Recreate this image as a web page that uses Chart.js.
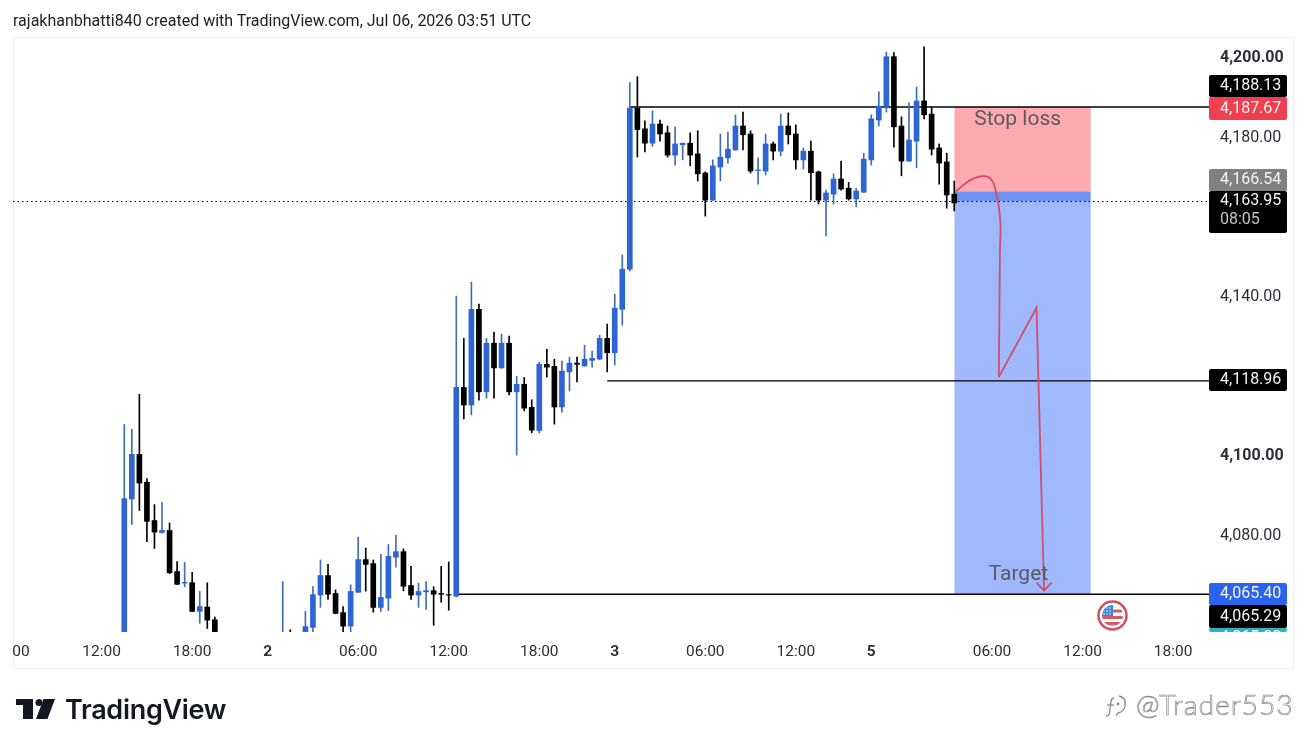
<!DOCTYPE html>
<html>
<head>
<meta charset="utf-8">
<title>XAUUSD short setup</title>
<script src="https://cdn.jsdelivr.net/npm/chart.js@4"></script>
<style>
  html, body { margin: 0; padding: 0; background: #fff; overflow: hidden; }
  #wrap { position: relative; width: 1306px; height: 749px; }
  #frame { position: absolute; left: 13px; top: 37px; width: 1279px; height: 630px; border: 1px solid #f0f0f2; }
  #c { position: absolute; left: 0; top: 0; }
  #head { position: absolute; left: 13px; top: 11px; font: 16px Roboto, sans-serif; color: #222; white-space: nowrap; }
  #brand { position: absolute; left: 65px; top: 693px; font: 600 27px Inter, sans-serif; color: #131722; letter-spacing: -0.3px; }
  #mark { position: absolute; left: 1136px; top: 687px; font: 300 28.4px Lato, sans-serif; color: #fff; -webkit-text-stroke: 0.7px #8a8a8a; letter-spacing: 0.9px; white-space: nowrap; }
  svg { position: absolute; }
</style>
</head>
<body>
<div id="wrap">
  <div id="frame"></div>
  <canvas id="c" width="1306" height="749"></canvas>
  <div id="head">rajakhanbhatti840 created with TradingView.com, Jul 06, 2026 03:51 UTC</div>
  <svg style="left:0;top:690px" width="60" height="36">
    <path d="M16 9h17v20h-10V15h-7z" fill="#131722"/>
    <circle cx="39" cy="12.500" r="3.500" fill="#131722"/>
    <path d="M43.500 9H55l-7.500 20H36z" fill="#131722"/>
  </svg>
  <div id="brand">TradingView</div>
  <svg style="left:1097px;top:600px" width="31" height="31" viewBox="0 0 31 31">
    <circle cx="15.500" cy="15.500" r="14" fill="#fff" stroke="#c9535e" stroke-width="2.500"/>
    <clipPath id="flag"><circle cx="15.500" cy="15.500" r="10.500"/></clipPath>
    <g clip-path="url(#flag)">
      <rect x="4" y="4" width="23" height="23" fill="#fff"/>
      <rect x="4" y="9.500" width="23" height="3" fill="#d8585f"/>
      <rect x="4" y="16" width="23" height="3" fill="#d8585f"/>
      <rect x="4" y="22" width="23" height="3.500" fill="#d8585f"/>
      <rect x="4" y="4" width="12" height="12" fill="#3f86d1"/>
      <g fill="#e8f2fb">
        <circle cx="7" cy="8" r="0.800"/><circle cx="10" cy="8" r="0.800"/><circle cx="13" cy="8" r="0.800"/>
        <circle cx="7" cy="11" r="0.800"/><circle cx="10" cy="11" r="0.800"/><circle cx="13" cy="11" r="0.800"/>
        <circle cx="7" cy="14" r="0.800"/><circle cx="10" cy="14" r="0.800"/><circle cx="13" cy="14" r="0.800"/>
      </g>
    </g>
  </svg>
  <svg style="left:1104px;top:692px" width="30" height="30" viewBox="0 0 30 30" fill="none" stroke="#8a8a8a" stroke-width="1.300">
    <path d="M10 6c-3 0-3 3-3.500 7l-1 8c-.4 3-2 3-3.500 3"/>
    <path d="M3 13h7"/>
    <path d="M15 4c5 1 7 5 6 10-.6 3.500-3 6-7 7l-2 3"/>
    <circle cx="14" cy="12" r="0.800"/>
  </svg>
  <div id="mark">@Trader553</div>
</div>

<script>
// 30 minute candles, slot number = bar index, price
// null = bar sits completely below the visible range
var opens = [4048, 4089.3, 4100.5, 4093.5, 4083.9, 4080.9, 4081.4, 4071.1, 4068.2, 4068.3, 4061.1, 4062.2, 4059.0,
  null, null, null, null, null, null, null, null, 4044, 4052, null, 4050, 4057.1, 4065.2, 4070.1, 4065.6, 4060.8,
  4057.4, 4065.9, 4074.1, 4073.1, 4062.1, 4064.4, 4074.7, 4076.1, 4067.6, 4065.2, 4066.0, 4066.3, 4065.6, 4065.3,
  4064.9, 4117.3, 4112.9, 4136.9, 4116.2, 4128.4, 4122.2, 4128.4, 4116.2, 4118.1, 4112.3, 4106.5, 4123.1, 4122.6,
  4112.4, 4121.2, 4123.4, 4122.7, 4124.1, 4124.4, 4129.6, 4126.0, 4136.9, 4147.0, 4187.4, 4182.2, 4178.6, 4183.4,
  4181.2, 4175.6, 4178.2, 4178.6, 4175.9, 4171.1, 4164.3, 4172.6, 4174.9, 4176.9, 4182.9, 4180.9, 4171.7, 4171.6,
  4178.4, 4176.6, 4182.9, 4180.9, 4174.4, 4176.6, 4171.4, 4164.3, 4165.8, 4169.6, 4167.3, 4164.6, 4166.3, 4174.4,
  4184.4, 4187.7, 4200.3, 4182.9, 4174.1, 4179.1, 4189.2, 4185.9, 4177.4, 4173.9, 4165.8];
var closes = [4089.4, 4100.5, 4093.3, 4083.7, 4081.0, 4081.4, 4070.8, 4067.9, 4068.4, 4061.1, 4062.3, 4058.9, 4052,
  null, null, null, null, null, null, null, null, 4048, 4048, null, 4057.3, 4065.3, 4070.1, 4065.4, 4060.6, 4057.4,
  4066.1, 4074.1, 4072.9, 4062.1, 4064.6, 4074.9, 4076.1, 4067.4, 4065.2, 4066.1, 4066.3, 4065.4, 4065.4, 4065.2,
  4117.3, 4112.9, 4136.9, 4116.2, 4128.4, 4122.2, 4128.4, 4116.2, 4118.1, 4112.1, 4106.6, 4123.1, 4122.4, 4112.4,
  4121.4, 4123.4, 4123.1, 4124.4, 4124.6, 4129.6, 4126.0, 4137.2, 4147.0, 4187.4, 4182.0, 4178.6, 4183.4, 4180.9,
  4175.6, 4178.4, 4178.6, 4175.6, 4170.9, 4164.3, 4172.9, 4175.1, 4177.1, 4182.9, 4180.7, 4171.6, 4171.9, 4178.4,
  4176.6, 4182.9, 4180.7, 4174.4, 4176.6, 4171.2, 4164.3, 4166.1, 4169.6, 4167.1, 4164.6, 4166.6, 4174.6, 4184.7,
  4187.9, 4200.3, 4182.7, 4174.1, 4179.4, 4189.2, 4185.7, 4177.1, 4173.6, 4165.6, 4163.6];
var highs = [4108.0, 4106.8, 4115.6, 4094.4, 4087.9, 4088.4, 4083.3, 4073.6, 4073.4, 4070.9, 4066.1, 4068.3, 4059.7,
  null, null, null, null, null, null, null, null, 4068.6, 4056.5, null, 4061.1, 4067.3, 4074.0, 4072.9, 4066.5, 4062.3,
  4067.8, 4079.7, 4077.0, 4074.0, 4075.4, 4077.9, 4080.2, 4076.8, 4072.4, 4068.2, 4068.6, 4067.3, 4072.4, 4073.5,
  4140.2, 4129.6, 4143.7, 4138.2, 4129.6, 4131.2, 4130.7, 4130.2, 4120.1, 4119.8, 4114.2, 4123.6, 4126.9, 4124.4,
  4123.9, 4124.9, 4124.9, 4127.9, 4126.4, 4130.4, 4133.2, 4140.7, 4150.5, 4193.8, 4195.3, 4184.2, 4186.7, 4184.4,
  4182.9, 4182.7, 4178.6, 4181.2, 4181.7, 4171.4, 4174.4, 4180.9, 4181.4, 4185.7, 4186.4, 4181.7, 4174.9, 4180.9,
  4178.9, 4185.9, 4186.2, 4183.2, 4177.4, 4179.1, 4171.6, 4166.8, 4170.9, 4174.1, 4168.8, 4167.3, 4176.1, 4185.7,
  4191.5, 4201.5, 4201.3, 4185.2, 4188.7, 4192.7, 4202.8, 4187.7, 4178.4, 4176.1, 4169.1];
var lows = [4045, 4082.9, 4086.4, 4078.6, 4076.9, 4080.7, 4070.6, 4067.8, 4067.3, 4061.0, 4058.1, 4056.8, 4050,
  null, null, null, null, null, null, null, null, 4042, 4046, null, 4048, 4054, 4062.1, 4064.1, 4060.5, 4055,
  4055, 4065.8, 4066.2, 4060.9, 4061.1, 4061.3, 4072.2, 4066.3, 4064.1, 4062.1, 4061.6, 4057.6, 4063.4, 4061.4,
  4064.8, 4109.4, 4110.4, 4114.1, 4114.6, 4114.6, 4122.1, 4115.4, 4100.3, 4111.4, 4105.9, 4105.9, 4119.9, 4108.1,
  4111.1, 4116.4, 4118.7, 4122.6, 4122.4, 4124.3, 4121.2, 4122.9, 4132.9, 4146.5, 4175.1, 4176.4, 4177.8, 4179.1,
  4175.1, 4173.1, 4174.4, 4172.9, 4169.1, 4160.3, 4164.2, 4169.1, 4173.6, 4176.8, 4176.9, 4171.1, 4168.3, 4170.6,
  4174.4, 4175.4, 4178.4, 4172.1, 4172.1, 4164.3, 4163.3, 4155.3, 4163.3, 4166.8, 4164.3, 4162.6, 4166.2, 4173.1,
  4182.9, 4186.4, 4177.6, 4170.4, 4174.0, 4172.4, 4184.7, 4175.6, 4168.3, 4162.3, 4161.6];

var xTickSlots = [-13.7, -3, 9, 19, 31, 43, 55, 65, 77, 89, 99, 115, 127, 139];
var xTickLabels = ["00", "12:00", "18:00", "2", "06:00", "12:00", "18:00", "3", "06:00", "12:00", "5", "06:00", "12:00", "18:00"];
var xBoldLabels = ["2", "3", "5"];
var yTickValues = [4200, 4180, 4140, 4100, 4080];
var yBoldValues = [4200, 4100];

var xMin = -14.75, xMax = 143.76;
var yMin = 4055.93, yMax = 4205.24;

// drawn levels: [price, first slot]
var levelPrices = [4187.67, 4118.96, 4065.40];
var levelStarts = [67, 64, 44];
var lastPrice = 4163.95;

// position tool
var entryPrice = 4166.54, stopPrice = 4187.67, targetPrice = 4065.40;
var boxStart = 110, boxEnd = 128.1;

// hand drawn arrow
var curveX = [110.2, 112, 113.6, 114.8, 115.5, 116.1, 116.05, 115.9];
var curveY = [4166.4, 4169.2, 4170.3, 4169.7, 4166.6, 4159.3, 4151, 4119.9];
var zigX = [115.9, 120.9, 121.9];
var zigY = [4119.9, 4137.3, 4066.3];
var headX = [120.9, 121.9, 122.9];
var headY = [4068.3, 4066.3, 4068.3];

var UP = "#2f64d4", UP_WICK = "#3f6fb0", DOWN = "#000000";
var ARROW = "#cf4f6c";

function pts(xs, ys) {
  return xs.map(function(x, i) { return { x: x, y: ys[i] }; });
}

function flatLine(price, from, to, color, extra) {
  return Object.assign({
    type: "line",
    data: [{ x: from, y: price }, { x: to, y: price }],
    borderColor: color,
    borderWidth: 1.4,
    pointRadius: 0,
    fill: false,
    order: 5
  }, extra || {});
}

function box(top, bottom, color) {
  return {
    type: "line",
    data: [{ x: boxStart, y: top }, { x: boxEnd, y: top }],
    borderWidth: 0,
    pointRadius: 0,
    backgroundColor: color,
    fill: { value: bottom },
    order: 20
  };
}

function arrowLine(xs, ys, tension) {
  return {
    type: "line",
    data: pts(xs, ys),
    borderColor: ARROW,
    borderWidth: 1.8,
    pointRadius: 0,
    tension: tension,
    fill: false,
    order: 1
  };
}

var wicks = highs.map(function(h, i) { return { x: i, y: h === null ? null : [lows[i], h] }; });
var bodies = opens.map(function(o, i) { return { x: i, y: o === null ? null : [o, closes[i]] }; });
var isUp = opens.map(function(o, i) { return closes[i] >= o; });

// labels of the price scale
var tagText = ["4,188.13", "4,187.67", "4,166.54", "4,163.95", "4,118.96", "4,065.40", "4,065.29", "4,065.00"];
var tagColor = ["#000000", "#ef3f50", "#808080", "#000000", "#000000", "#2a64ee", "#000000", "#2fb3c4"];
var tagTop = [75, 97, 169, 191, 369, 583, 605, 628];
var tagBottom = [97, 120, 191, 233, 391, 605, 628, 632];

var overlayPlugin = {
  id: "overlay",
  afterDatasetsDraw: function(chart) {
    var c = chart.ctx, sx = chart.scales.x, sy = chart.scales.y;
    c.save();
    c.fillStyle = "#5a5a62";
    c.font = "21px Roboto, sans-serif";
    c.textAlign = "center";
    c.textBaseline = "middle";
    c.fillText("Stop loss", sx.getPixelForValue(118.4), sy.getPixelForValue(4184.5));
    c.fillText("Target", sx.getPixelForValue(118.5), sy.getPixelForValue(4070.4));
    c.restore();
  },
  afterDraw: function(chart) {
    var c = chart.ctx, a = chart.chartArea;
    c.save();
    tagText.forEach(function(t, i) {
      c.save();
      c.beginPath();
      c.rect(a.right, a.top, 90, a.bottom - a.top);
      c.clip();
      c.fillStyle = tagColor[i];
      c.beginPath();
      c.roundRect(a.right, tagTop[i], 78, tagBottom[i] - tagTop[i], 2);
      c.fill();
      c.fillStyle = "#f4f4f4";
      c.font = "16px Roboto, sans-serif";
      c.textAlign = "left";
      c.textBaseline = "middle";
      if (i === 3) {
        c.fillText(t, a.right + 11, tagTop[i] + 10);
        c.fillStyle = "#c4c4c4";
        c.fillText("08:05", a.right + 11, tagTop[i] + 29);
      } else {
        c.fillText(t, a.right + 11, i === 7 ? tagTop[i] + 10 : (tagTop[i] + tagBottom[i]) / 2);
      }
      c.restore();
    });
    c.restore();
  }
};

var datasets = [
  box(stopPrice, entryPrice, "#fdaab1"),
  box(entryPrice, lastPrice, "#6f93f4"),
  box(lastPrice, targetPrice, "#9fb8fe"),
  flatLine(levelPrices[0], levelStarts[0], xMax, "#000000"),
  flatLine(levelPrices[1], levelStarts[1], xMax, "#000000"),
  flatLine(levelPrices[2], levelStarts[2], xMax, "#000000"),
  flatLine(lastPrice, xMin, xMax, "#000000", { borderDash: [1.5, 3], borderWidth: 1 }),
  {
    type: "bar",
    data: wicks,
    barThickness: 1,
    grouped: false,
    backgroundColor: isUp.map(function(u) { return u ? UP_WICK : DOWN; }),
    order: 4
  },
  {
    type: "bar",
    data: bodies,
    barThickness: 5,
    grouped: false,
    backgroundColor: isUp.map(function(u) { return u ? UP : DOWN; }),
    order: 3
  },
  arrowLine(curveX, curveY, 0.4),
  arrowLine(zigX, zigY, 0),
  arrowLine(headX, headY, 0)
];

new Chart(document.getElementById("c").getContext("2d"), {
  data: { datasets: datasets },
  plugins: [overlayPlugin],
  options: {
    responsive: false,
    animation: false,
    devicePixelRatio: 1,
    layout: { padding: { left: 13, top: 37, right: 13, bottom: 81 } },
    plugins: { legend: { display: false }, tooltip: { enabled: false } },
    scales: {
      x: {
        type: "linear",
        min: xMin,
        max: xMax,
        offset: false,
        grid: { display: false },
        border: { display: false },
        afterBuildTicks: function(axis) {
          axis.ticks = xTickSlots.map(function(v) { return { value: v }; });
        },
        afterFit: function(axis) { axis.height = 36; },
        ticks: {
          autoSkip: false,
          maxRotation: 0,
          padding: 3,
          color: "#2a2e39",
          font: function(ctx) {
            var label = xTickLabels[ctx.index];
            return { family: "Roboto", size: 15.5, weight: xBoldLabels.indexOf(label) >= 0 ? "bold" : "normal" };
          },
          callback: function(v, i) { return xTickLabels[i]; }
        }
      },
      y: {
        position: "right",
        min: yMin,
        max: yMax,
        grid: { display: false },
        border: { display: false },
        afterBuildTicks: function(axis) {
          axis.ticks = yTickValues.map(function(v) { return { value: v }; });
        },
        afterFit: function(axis) { axis.width = 84; },
        ticks: {
          padding: 3,
          color: "#2a2e39",
          font: function(ctx) {
            return { family: "Roboto", size: 16, weight: yBoldValues.indexOf(yTickValues[ctx.index]) >= 0 ? "bold" : "normal" };
          },
          callback: function(v) {
            return v.toLocaleString("en-US", { minimumFractionDigits: 2, maximumFractionDigits: 2 });
          }
        }
      }
    }
  }
});
</script>
</body>
</html>
